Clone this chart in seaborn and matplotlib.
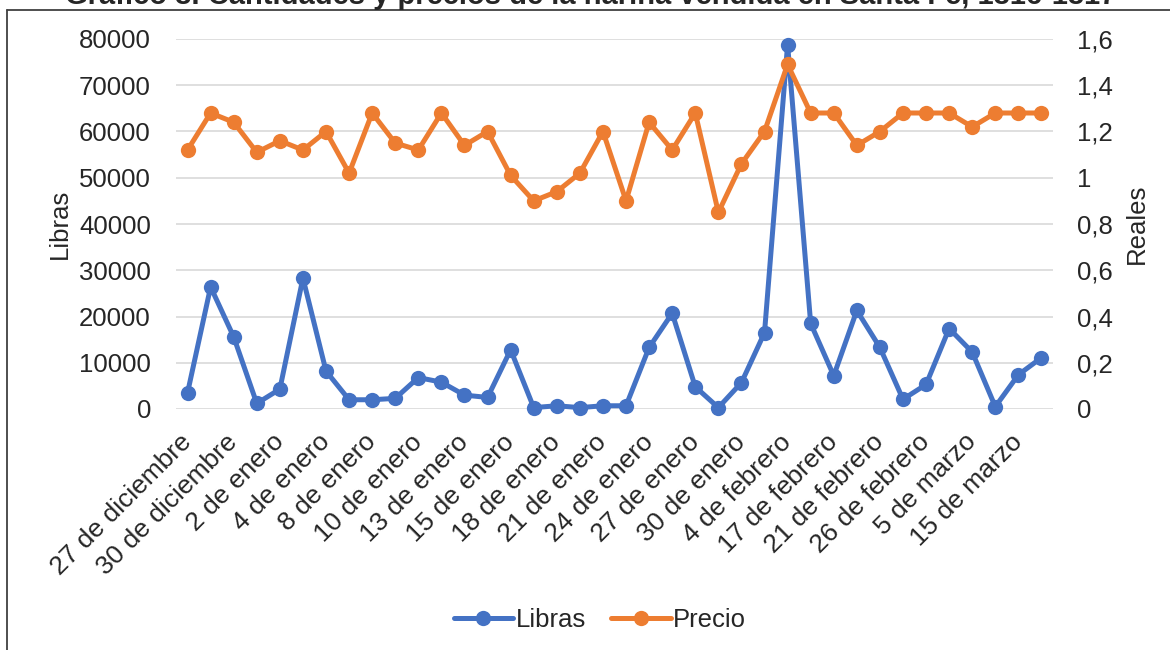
"""
Gráfico 3 — cantidades (libras) y precios (reales) de la harina vendida en Santa Fe.
Dos series sobre ejes gemelos, estilo Excel.
"""
import numpy as np
import pandas as pd
import matplotlib
matplotlib.use("Agg")
import matplotlib.pyplot as plt
from matplotlib.lines import Line2D
from matplotlib.ticker import FuncFormatter, MultipleLocator
import seaborn as sns

# ── datos ───────────────────────────────────────────────────────────────────
libras = [3500, 26400, 15600, 1200, 4300, 28300, 8200, 2000, 2000, 2300,
          6800, 5800, 3000, 2500, 12800, 300, 700, 300, 700, 700,
          13300, 20700, 4800, 300, 5700, 16500, 78800, 18500, 7200, 21300,
          13300, 2100, 5300, 17400, 12300, 500, 7400, 11100]
precio = [1.12, 1.28, 1.24, 1.11, 1.16, 1.12, 1.20, 1.02, 1.28, 1.15,
          1.12, 1.28, 1.14, 1.20, 1.01, 0.90, 0.94, 1.02, 1.20, 0.90,
          1.24, 1.12, 1.28, 0.85, 1.06, 1.20, 1.49, 1.28, 1.28, 1.14,
          1.20, 1.28, 1.28, 1.28, 1.22, 1.28, 1.28, 1.28]
# solo se rotula una de cada dos fechas
fechas = ["27 de diciembre", "30 de diciembre", "2 de enero", "4 de enero",
          "8 de enero", "10 de enero", "13 de enero", "15 de enero",
          "18 de enero", "21 de enero", "24 de enero", "27 de enero",
          "30 de enero", "4 de febrero", "17 de febrero", "21 de febrero",
          "26 de febrero", "5 de marzo", "15 de marzo"]

TITULO = "Gráfico 3. Cantidades y precios de la harina vendida en Santa Fe, 1816-1817"
AZUL = "#4472C4"
NARANJA = "#ED7D31"
FS = 18.5

sns.set_theme(style="white")
plt.rcParams["font.family"] = ["Liberation Sans", "DejaVu Sans"]

df = pd.DataFrame({"pos": np.arange(len(libras)), "libras": libras, "precio": precio})

fig = plt.figure(figsize=(11.7, 6.5), dpi=100)
ax = fig.add_axes([176 / 1170, 1 - 409 / 650, 877 / 1170, 370 / 650])
ax2 = ax.twinx()

estilo = dict(marker="o", markersize=11, linewidth=3.6, markeredgewidth=0, clip_on=False)
sns.lineplot(data=df, x="pos", y="libras", ax=ax, color=AZUL, zorder=3, **estilo)
sns.lineplot(data=df, x="pos", y="precio", ax=ax2, color=NARANJA, zorder=3, **estilo)

# ejes
ax.set_xlim(-0.5, len(libras) - 0.5)
ax.set_ylim(0, 80000)
ax2.set_ylim(0, 1.6)
ax.yaxis.set_major_locator(MultipleLocator(10000))
ax2.yaxis.set_major_locator(MultipleLocator(0.2))
ax.yaxis.set_major_formatter(FuncFormatter(lambda v, p: f"{v:.0f}"))
ax2.yaxis.set_major_formatter(FuncFormatter(lambda v, p: f"{v:g}".replace(".", ",")))

ax.set_xticks(df["pos"][::2])
ax.set_xticklabels(fechas, rotation=45, ha="right", va="center", rotation_mode="anchor")
ax.tick_params(axis="x", length=0, pad=21, labelsize=19)
ax.tick_params(axis="y", length=0, pad=18, labelsize=FS)
ax2.tick_params(axis="y", length=0, pad=17, labelsize=FS)

ax.grid(axis="y", color="#D9D9D9", linewidth=1.2)
ax.set_axisbelow(True)
ax2.grid(False)
for a in (ax, ax2):
    for s in a.spines.values():
        s.set_visible(False)

ax.set_xlabel("")
ax.set_ylabel("Libras", fontsize=FS, labelpad=5)
ax2.set_ylabel("Reales", fontsize=FS, labelpad=9)

# leyenda común abajo
handles = [Line2D([], [], color=AZUL, marker="o", markersize=11, linewidth=3.6, markeredgewidth=0),
           Line2D([], [], color=NARANJA, marker="o", markersize=11, linewidth=3.6, markeredgewidth=0)]
fig.legend(handles, ["Libras", "Precio"], loc="center", bbox_to_anchor=(600 / 1170, 1 - 620 / 650),
           ncol=2, frameon=False, fontsize=FS, handlelength=2.3, handletextpad=0.1, columnspacing=1.0)

# título (cortado arriba, como en el original) y marco del área del gráfico
fig.text(591 / 1170, 1 - 4 / 650, TITULO, ha="center", va="baseline", fontsize=21, fontweight="bold")
fig.add_artist(Line2D([7 / 1170, 1], [1 - 10 / 650, 1 - 10 / 650], color="#404040", linewidth=1.3))
fig.add_artist(Line2D([7 / 1170, 7 / 1170], [0, 1 - 10 / 650], color="#404040", linewidth=1.3))

fig.savefig("out.png", dpi=100)
